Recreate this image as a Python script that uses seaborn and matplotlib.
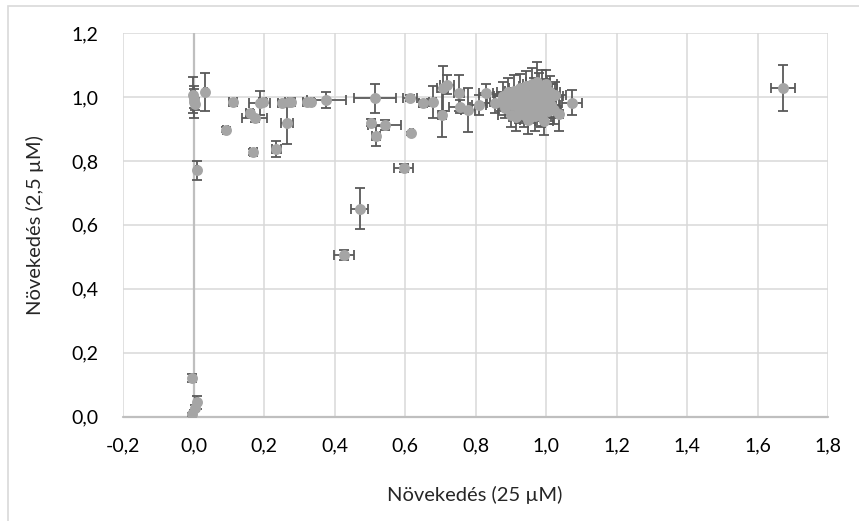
import matplotlib
matplotlib.use("Agg")
import matplotlib.pyplot as plt
import seaborn as sns
import pandas as pd
from matplotlib.patches import Rectangle
from matplotlib.ticker import FixedLocator, FuncFormatter

# ---- data: growth at 25 µM (x) vs growth at 2.5 µM (y), with error bars ----
x_vals = [-0.002, 0.002, 0.000, 0.003, 0.033, 0.010, -0.004, 0.009, 0.004, -0.005,
          0.091, 0.112, 0.169, 0.160, 0.174, 0.188, 0.197, 0.235, 0.250, 0.271,
          0.264, 0.278, 0.322, 0.332, 0.377, 0.427, 0.471, 0.504, 0.514, 0.517,
          0.542, 0.596, 0.613, 0.618, 0.651, 0.679, 0.705, 0.707, 0.719, 0.753,
          0.755, 0.778, 0.811, 0.830, 0.854, 1.038, 1.074, 1.673,
          0.872, 0.878, 0.885, 0.892, 0.897, 0.900, 0.905, 0.910, 0.915, 0.918,
          0.922, 0.926, 0.930, 0.934, 0.937, 0.940, 0.943, 0.946, 0.950, 0.953,
          0.956, 0.959, 0.962, 0.965, 0.968, 0.971, 0.974, 0.977, 0.980, 0.983,
          0.986, 0.989, 0.992, 0.995, 0.998, 1.001, 1.004, 1.007, 1.010, 1.014,
          1.018, 1.022, 1.026, 0.960, 0.975, 0.990, 0.945, 0.930, 0.985, 1.000]
y_vals = [1.006, 0.985, 0.995, 0.978, 1.016, 0.771, 0.121, 0.045, 0.028, 0.008,
          0.897, 0.985, 0.828, 0.949, 0.933, 0.982, 0.985, 0.837, 0.982, 0.985,
          0.917, 0.985, 0.985, 0.985, 0.991, 0.505, 0.651, 0.920, 0.996, 0.878,
          0.912, 0.778, 0.996, 0.886, 0.980, 0.985, 0.944, 1.027, 1.038, 1.012,
          0.970, 0.959, 0.975, 1.012, 0.980, 0.946, 0.982, 1.029,
          0.985, 1.003, 0.965, 1.015, 0.990, 0.945, 0.975, 1.020, 0.938, 0.998,
          0.960, 1.028, 0.985, 1.012, 0.945, 0.970, 1.035, 0.992, 0.928, 1.005,
          0.955, 1.040, 0.980, 1.018, 0.940, 0.995, 1.048, 0.965, 1.025, 0.985,
          0.950, 1.035, 1.003, 0.925, 0.975, 1.040, 0.992, 0.955, 1.015, 0.975,
          1.002, 0.960, 1.006, 1.000, 1.010, 0.990, 0.975, 0.955, 0.945, 1.025]
x_err = [0.006, 0.006, 0.004, 0.004, 0.004, 0.004, 0.006, 0.004, 0.004, 0.004,
         0.008, 0.010, 0.010, 0.010, 0.035, 0.030, 0.010, 0.012, 0.010, 0.012,
         0.017, 0.010, 0.010, 0.010, 0.055, 0.028, 0.024, 0.010, 0.060, 0.012,
         0.047, 0.026, 0.020, 0.005, 0.010, 0.010, 0.010, 0.015, 0.020, 0.015,
         0.030, 0.020, 0.020, 0.020, 0.020, 0.010, 0.028, 0.034,
         0.030, 0.025, 0.020, 0.030, 0.020, 0.035, 0.030, 0.025, 0.020, 0.030,
         0.020, 0.030, 0.025, 0.020, 0.030, 0.025, 0.020, 0.030, 0.025, 0.020,
         0.030, 0.025, 0.020, 0.030, 0.025, 0.020, 0.030, 0.025, 0.020, 0.030,
         0.025, 0.020, 0.030, 0.025, 0.020, 0.030, 0.025, 0.020, 0.030, 0.025,
         0.030, 0.020, 0.030, 0.030, 0.030, 0.030, 0.030, 0.030, 0.030, 0.030]
y_err = [0.055, 0.050, 0.030, 0.020, 0.060, 0.030, 0.012, 0.020, 0.010, 0.005,
         0.008, 0.006, 0.010, 0.010, 0.010, 0.037, 0.010, 0.024, 0.010, 0.010,
         0.065, 0.010, 0.008, 0.008, 0.026, 0.015, 0.064, 0.010, 0.045, 0.030,
         0.015, 0.012, 0.010, 0.005, 0.010, 0.050, 0.070, 0.070, 0.030, 0.057,
         0.020, 0.070, 0.030, 0.030, 0.030, 0.054, 0.040, 0.072,
         0.030, 0.045, 0.030, 0.045, 0.030, 0.040, 0.025, 0.050, 0.045, 0.030,
         0.040, 0.045, 0.035, 0.030, 0.040, 0.040, 0.045, 0.035, 0.045, 0.040,
         0.035, 0.050, 0.035, 0.040, 0.045, 0.030, 0.060, 0.030, 0.050, 0.035,
         0.040, 0.050, 0.030, 0.045, 0.040, 0.045, 0.035, 0.040, 0.050, 0.040,
         0.040, 0.045, 0.040, 0.030, 0.030, 0.030, 0.030, 0.030, 0.040, 0.030]

x_ticks = [-0.2, 0.0, 0.2, 0.4, 0.6, 0.8, 1.0, 1.2, 1.4, 1.6, 1.8]
y_ticks = [0.0, 0.2, 0.4, 0.6, 0.8, 1.0, 1.2]
x_label = "Növekedés (25 µM)"
y_label = "Növekedés (2,5 µM)"

df = pd.DataFrame({"x": x_vals, "y": y_vals, "xe": x_err, "ye": y_err})

sns.set_theme(style="white")
plt.rcParams["font.family"] = ["Lato", "DejaVu Sans"]

W, H = 859, 521
fig = plt.figure(figsize=(W / 100, H / 100), dpi=100)
ax = fig.add_axes([123 / W, 1 - 416.7 / H, (828 - 123) / W, (416.7 - 33) / H])

grid_c = "#D9D9D9"
axis_c = "#BFBFBF"
err_c = "#595959"
mark_c = "#A5A5A5"

ax.set_xlim(-0.2, 1.8)
ax.set_ylim(0.0, 1.2)
ax.xaxis.set_major_locator(FixedLocator(x_ticks))
ax.yaxis.set_major_locator(FixedLocator(y_ticks))
fmt = FuncFormatter(lambda v, p: f"{v:.1f}".replace(".", ",").replace("-0,0", "0,0"))
ax.xaxis.set_major_formatter(fmt)
ax.yaxis.set_major_formatter(fmt)
ax.grid(True, color=grid_c, linewidth=1.1, zorder=0)
ax.set_axisbelow(True)
for s in ax.spines.values():
    s.set_visible(False)
ax.axhline(0, color=axis_c, linewidth=1.6, zorder=1, clip_on=False)
ax.axvline(0, color=axis_c, linewidth=1.6, zorder=1)
ax.tick_params(axis="both", length=0, labelsize=14, colors="#000000")
ax.tick_params(axis="x", pad=15)
ax.tick_params(axis="y", pad=18)

ax.errorbar(df["x"], df["y"], xerr=df["xe"], yerr=df["ye"], fmt="none",
            ecolor=err_c, elinewidth=1.3, capsize=3.5, capthick=1.3, zorder=2)
sns.scatterplot(data=df, x="x", y="y", ax=ax, color=mark_c, s=62,
                edgecolor=mark_c, linewidth=0, zorder=3, legend=False)
ax.set_xlabel("")
ax.set_ylabel("")

fig.text(475 / W, 1 - 495 / H, x_label, ha="center", va="center", fontsize=14.5)
fig.text(35 / W, 1 - 225 / H, y_label, ha="center", va="center", rotation=90, fontsize=14.5)

fig.patches.append(Rectangle((8 / W, -0.1), 2, 1.1 - 6 / H, transform=fig.transFigure,
                             fill=False, edgecolor=grid_c, linewidth=1.2, figure=fig))

fig.savefig("out.png", dpi=100)
